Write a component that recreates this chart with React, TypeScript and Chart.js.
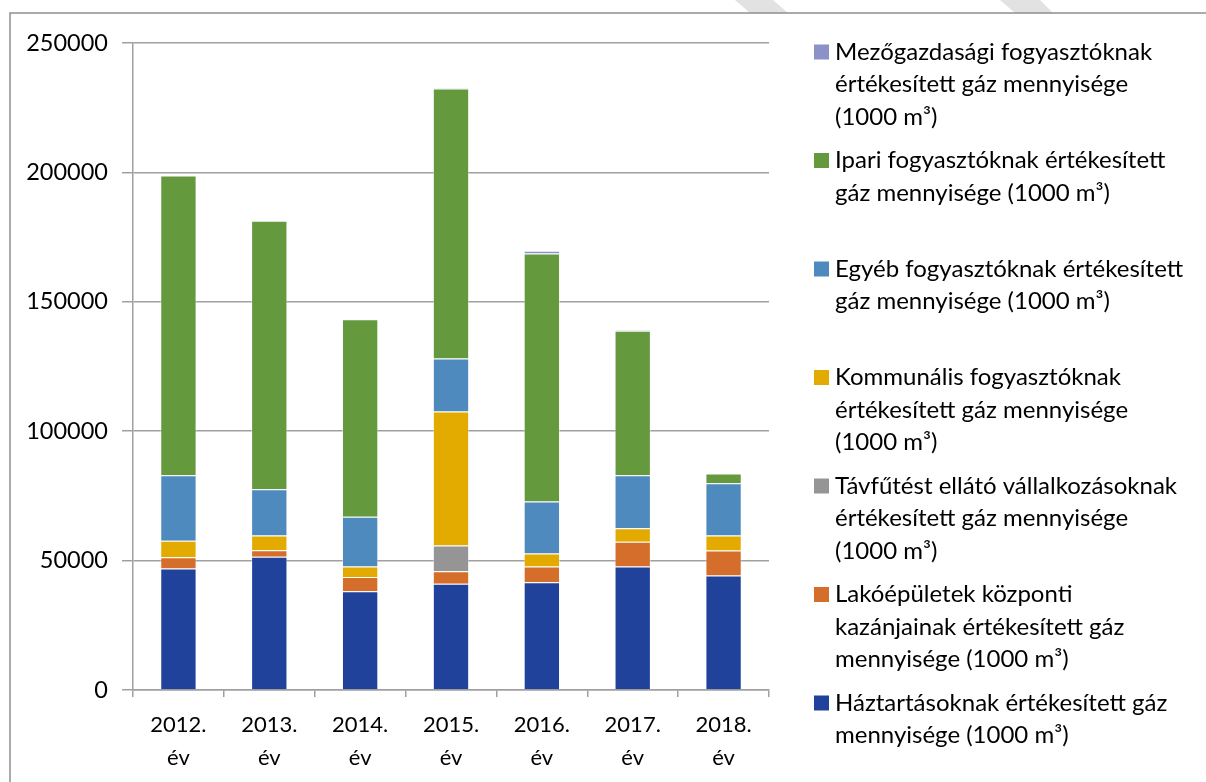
import { useEffect, useRef } from 'react';
import { Chart, registerables } from 'chart.js';
Chart.register(...registerables);

const categories = [['2012.', 'év'], ['2013.', 'év'], ['2014.', 'év'], ['2015.', 'év'], ['2016.', 'év'], ['2017.', 'év'], ['2018.', 'év']];

const haztartas = [46900, 51500, 38200, 41100, 41600, 47700, 44200];
const lakoepulet = [4400, 2500, 5500, 4800, 6100, 9600, 9700];
const tavfutes = [0, 0, 0, 9900, 0, 0, 0];
const kommunalis = [6400, 5700, 4000, 51800, 5000, 5200, 5800];
const egyeb = [25300, 17900, 19200, 20500, 20100, 20500, 20200];
const ipari = [115800, 103700, 76400, 104300, 95900, 55800, 3800];
const mezogazdasagi = [0, 0, 0, 300, 1000, 300, 0];

const seriesNames = [
  ['Háztartásoknak értékesített gáz', 'mennyisége (1000 m³)'],
  ['Lakóépületek központi', 'kazánjainak értékesített gáz', 'mennyisége (1000 m³)'],
  ['Távfűtést ellátó vállalkozásoknak', 'értékesített gáz mennyisége', '(1000 m³)'],
  ['Kommunális fogyasztóknak', 'értékesített gáz mennyisége', '(1000 m³)'],
  ['Egyéb fogyasztóknak értékesített', 'gáz mennyisége (1000 m³)'],
  ['Ipari fogyasztóknak értékesített', 'gáz mennyisége (1000 m³)'],
  ['Mezőgazdasági fogyasztóknak', 'értékesített gáz mennyisége', '(1000 m³)'],
];
const seriesValues = [haztartas, lakoepulet, tavfutes, kommunalis, egyeb, ipari, mezogazdasagi];
const seriesColors = ['#20429A', '#D46E2A', '#959595', '#E3AB00', '#4F8ABE', '#64993E', '#8A92C7'];

const yTicks = [0, 50000, 100000, 150000, 200000, 250000];

const FONT = 'Lato, "Open Sans", sans-serif';

const decorPlugin = {
  id: 'decor',
  beforeDraw(chart: any) {
    const ctx = chart.ctx;
    ctx.save();
    ctx.fillStyle = '#fff';
    ctx.fillRect(0, 0, chart.width, chart.height);
    ctx.fillStyle = '#e2e2e2';
    ctx.beginPath();
    ctx.moveTo(735, 0); ctx.lineTo(773, 0); ctx.lineTo(788, 13); ctx.lineTo(750, 13); ctx.closePath();
    ctx.fill();
    ctx.beginPath();
    ctx.moveTo(1000, 0); ctx.lineTo(1040, 0); ctx.lineTo(1053, 13); ctx.lineTo(1015, 13); ctx.closePath();
    ctx.fill();
    ctx.strokeStyle = '#8f8f8f';
    ctx.lineWidth = 1.5;
    ctx.beginPath();
    ctx.moveTo(10, chart.height + 5);
    ctx.lineTo(10, 13);
    ctx.lineTo(chart.width + 5, 13);
    ctx.stroke();
    ctx.restore();
  },
  afterDraw(chart: any) {
    const ctx = chart.ctx;
    ctx.save();
    ctx.font = `24px ${FONT}`;
    ctx.textBaseline = 'middle';
    ctx.textAlign = 'left';
    const n = chart.data.datasets.length;
    for (let k = 0; k < n; k++) {
      const i = n - 1 - k;
      const ds = chart.data.datasets[i];
      const yTop = 52 + k * 108.5;
      ctx.fillStyle = ds.backgroundColor;
      ctx.fillRect(814, yTop - 7.5, 15, 15);
      ctx.fillStyle = '#000';
      const lines = seriesNames[i];
      lines.forEach((ln, j) => ctx.fillText(ln, 835, yTop + j * 32.5));
    }
    ctx.restore();
  },
};

export default function App() {
  const ref = useRef<HTMLCanvasElement>(null);
  useEffect(() => {
    const chart = new Chart(ref.current!, {
      type: 'bar',
      data: {
        labels: categories as any,
        datasets: seriesValues.map((vals, i) => ({
          label: seriesNames[i].join(' '),
          data: vals,
          backgroundColor: seriesColors[i],
          borderColor: 'rgba(255,255,255,0.45)',
          borderWidth: 1,
          barPercentage: 1,
          categoryPercentage: 0.4,
        })),
      },
      options: {
        animation: false,
        responsive: false,
        layout: { padding: { left: 0, right: 437, top: 43, bottom: 0 } },
        plugins: { legend: { display: false }, tooltip: { enabled: false } },
        scales: {
          x: {
            stacked: true,
            afterFit: (s: any) => { s.height = 92; },
            grid: { display: true, drawOnChartArea: false, offset: true, tickLength: 7, color: '#a0a0a0', lineWidth: 1.5 },
            border: { display: true, color: '#a0a0a0', width: 1.5 },
            ticks: { color: '#000', font: { family: FONT, size: 22, lineHeight: 1.48 }, padding: 12, maxRotation: 0 },
          },
          y: {
            stacked: true,
            min: 0,
            max: 250000,
            afterFit: (s: any) => { s.width = 133; },
            afterBuildTicks: (s: any) => { s.ticks = yTicks.map((v) => ({ value: v })); },
            grid: { color: '#a0a0a0', lineWidth: 1.5, tickLength: 11 },
            border: { display: true, color: '#a0a0a0', width: 1.5 },
            ticks: { color: '#000', font: { family: FONT, size: 23.5 }, padding: 14, callback: (v: any) => String(v) },
          },
        },
      },
      plugins: [decorPlugin],
    });
    return () => chart.destroy();
  }, []);
  return (
    <div style={{ position: 'fixed', left: 0, top: 0, width: 1206, height: 782, background: '#fff' }}>
      <canvas ref={ref} width={1206} height={782} style={{ display: 'block' }} />
    </div>
  );
}
